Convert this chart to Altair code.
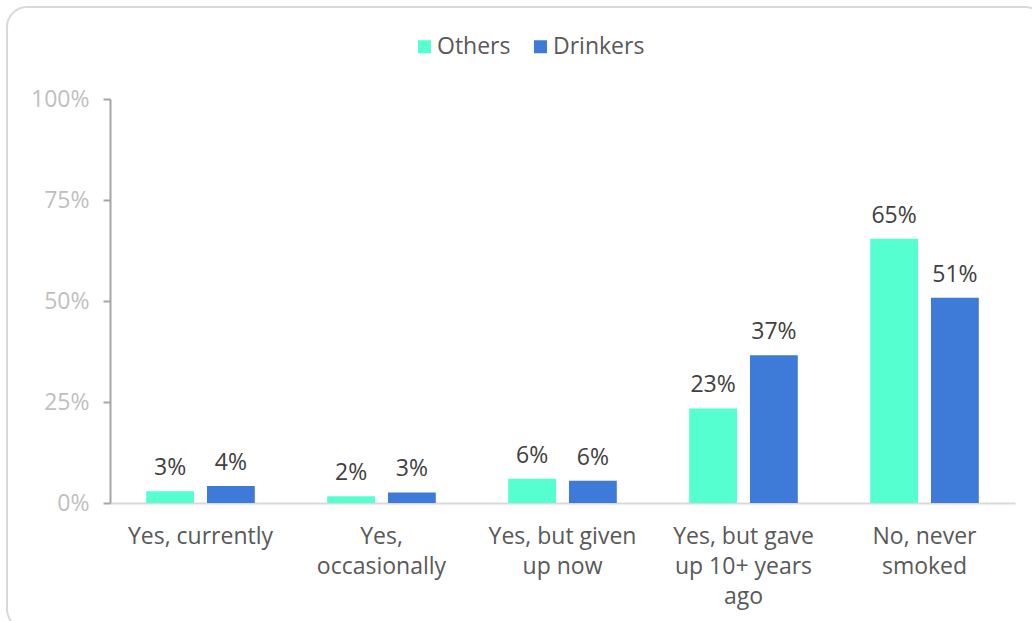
import altair as alt
import pandas as pd

categories = ["Yes, currently", "Yes, occasionally", "Yes, but given up now",
              "Yes, but gave up 10+ years ago", "No, never smoked"]
wrapped = [["Yes, currently"], ["Yes,", "occasionally"], ["Yes, but given", "up now"],
           ["Yes, but gave", "up 10+ years", "ago"], ["No, never", "smoked"]]
series = ["Others", "Drinkers"]
others = [2.9, 1.7, 6.0, 23.4, 65.4]
drinkers = [4.2, 2.6, 5.5, 36.6, 50.8]
colors = ["#55FFD0", "#3E7AD8"]
y_ticks = [0, 25, 50, 75, 100]

rows = []
for c, o, d in zip(categories, others, drinkers):
    rows.append({"cat": c, "series": "Others", "value": o})
    rows.append({"cat": c, "series": "Drinkers", "value": d})
df = pd.DataFrame(rows)

expr = "[]"
for c, w in zip(reversed(categories), reversed(wrapped)):
    arr = "[" + ",".join("'" + s + "'" for s in w) + "]"
    expr = f"datum.value == '{c}' ? {arr} : ({expr})"

FONT = "Open Sans"

base = alt.Chart(df).encode(
    x=alt.X("cat:N", sort=categories, title=None,
            scale=alt.Scale(paddingInner=0.4, paddingOuter=0.2),
            axis=alt.Axis(labelAngle=0, labelExpr=expr, labelFontSize=23,
                          labelColor="#595959", labelFont=FONT, labelLineHeight=30,
                          labelPadding=33, ticks=False, domainColor="#D9D9D9",
                          domainWidth=2, labelBaseline="middle")),
    xOffset=alt.XOffset("series:N", sort=series,
                        scale=alt.Scale(paddingInner=0.213, paddingOuter=0)),
)

bars = base.mark_bar().encode(
    y=alt.Y("value:Q", title=None,
            scale=alt.Scale(domain=[0, 100], nice=False),
            axis=alt.Axis(values=y_ticks, labelExpr="datum.value + '%'",
                          labelFontSize=23, labelColor="#BFBFBF", labelFont=FONT,
                          labelPadding=14, tickSize=7, tickColor="#A6A6A6",
                          domainColor="#A6A6A6", domainWidth=2, tickWidth=2,
                          grid=False)),
    color=alt.Color("series:N", sort=series,
                    scale=alt.Scale(domain=series, range=colors),
                    legend=alt.Legend(title=None, orient="none", direction="horizontal",
                                      legendX=303, legendY=-64, symbolType="square",
                                      symbolSize=169, symbolStrokeWidth=0,
                                      labelFontSize=23, labelColor="#595959",
                                      labelFont=FONT, columnPadding=18,
                                      labelOffset=1)),
)

labels = base.mark_text(baseline="bottom", dy=-11, fontSize=23, color="#404040",
                        font=FONT).transform_calculate(
    lbl="format(datum.value / 100, '.0%')"
).encode(y="value:Q", text="lbl:N")

border = alt.Chart(alt.Data(values=[{}])).mark_rect(
    fillOpacity=0, stroke="#D9D9D9", strokeWidth=2, cornerRadius=20
).encode(x=alt.value(-103), x2=alt.value(935), y=alt.value(-92), y2=alt.value(530))

chart = alt.layer(border, bars, labels).properties(
    width=905, height=404,
    autosize=alt.AutoSizeParams(type="none"),
    padding={"left": 110, "top": 99, "right": 17, "bottom": 118},
).configure_view(stroke=None)

chart.save("out.html", embed_options={"renderer": "svg", "actions": False})
